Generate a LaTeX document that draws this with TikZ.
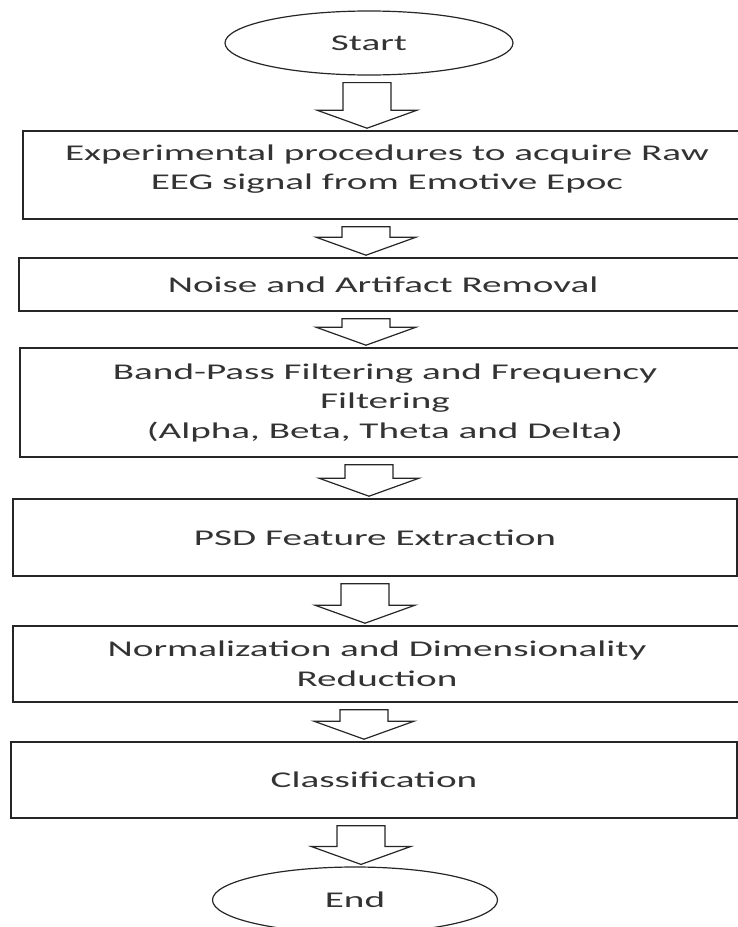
\documentclass[tikz,border=0pt]{standalone}
\usepackage{fontspec}
\setmainfont{Carlito}[FakeStretch=1.74]
\usetikzlibrary{shapes.geometric,calc}
\definecolor{inkgray}{HTML}{262626}
\definecolor{textgray}{HTML}{333333}
% hollow block arrow between two nodes: from, to, x position
\newcommand{\blockdown}[3]{%
 \draw[blockarrow] let \p1=(#1.south), \p2=(#2.north) in
  (#3pt-24pt,\y1-7pt) -- (#3pt+24pt,\y1-7pt) -- (#3pt+24pt,\y2+20pt) -- (#3pt+50pt,\y2+20pt)
  -- (#3pt,\y2+2pt) -- (#3pt-50pt,\y2+20pt) -- (#3pt-24pt,\y2+20pt) -- cycle;}

\begin{document}
\begin{tikzpicture}[x=1pt,y=-1pt,
 every node/.style={font=\fontsize{22.5}{29.5}\selectfont,text=textgray},
 stepbox/.style={draw=inkgray,line width=1.6pt,rectangle,inner sep=0pt,align=center},
 terminal/.style={draw=inkgray,line width=1.2pt,ellipse,inner sep=0pt},
 blockarrow/.style={draw=inkgray,line width=1.2pt,fill=white,line join=miter}]
 \useasboundingbox (0,0) rectangle (738,927);
 \clip (0,0) rectangle (738,927);
 \node[terminal,minimum width=288pt,minimum height=64pt] (start) at (369,43) {Start};
 \node[stepbox,minimum width=728pt,minimum height=88pt,text depth=16pt] (acquire) at (387,175)
  {Experimental procedures to acquire Raw\\EEG signal from Emotive Epoc};
 \node[stepbox,minimum width=728pt,minimum height=53pt] (noise) at (383,284.5) {Noise and Artifact Removal};
 \node[stepbox,minimum width=730pt,minimum height=109pt] (bandpass) at (385,402.5)
  {Band-Pass Filtering and Frequency\\Filtering\\(Alpha, Beta, Theta and Delta)};
 \node[stepbox,minimum width=724pt,minimum height=77pt] (psd) at (375,537.5) {PSD Feature Extraction};
 \node[stepbox,minimum width=728pt,minimum height=76pt] (normal) at (377,664)
  {Normalization and Dimensionality\\Reduction};
 \node[stepbox,minimum width=726pt,minimum height=76pt] (classify) at (374,780) {Classification};
 \node[terminal,minimum width=285pt,minimum height=66pt] (end) at (355,900) {End};
 \blockdown{start}{acquire}{367}
 \blockdown{acquire}{noise}{366}
 \blockdown{noise}{bandpass}{366}
 \blockdown{bandpass}{psd}{369}
 \blockdown{psd}{normal}{365}
 \blockdown{normal}{classify}{364}
 \blockdown{classify}{end}{361}
\end{tikzpicture}
\end{document}
